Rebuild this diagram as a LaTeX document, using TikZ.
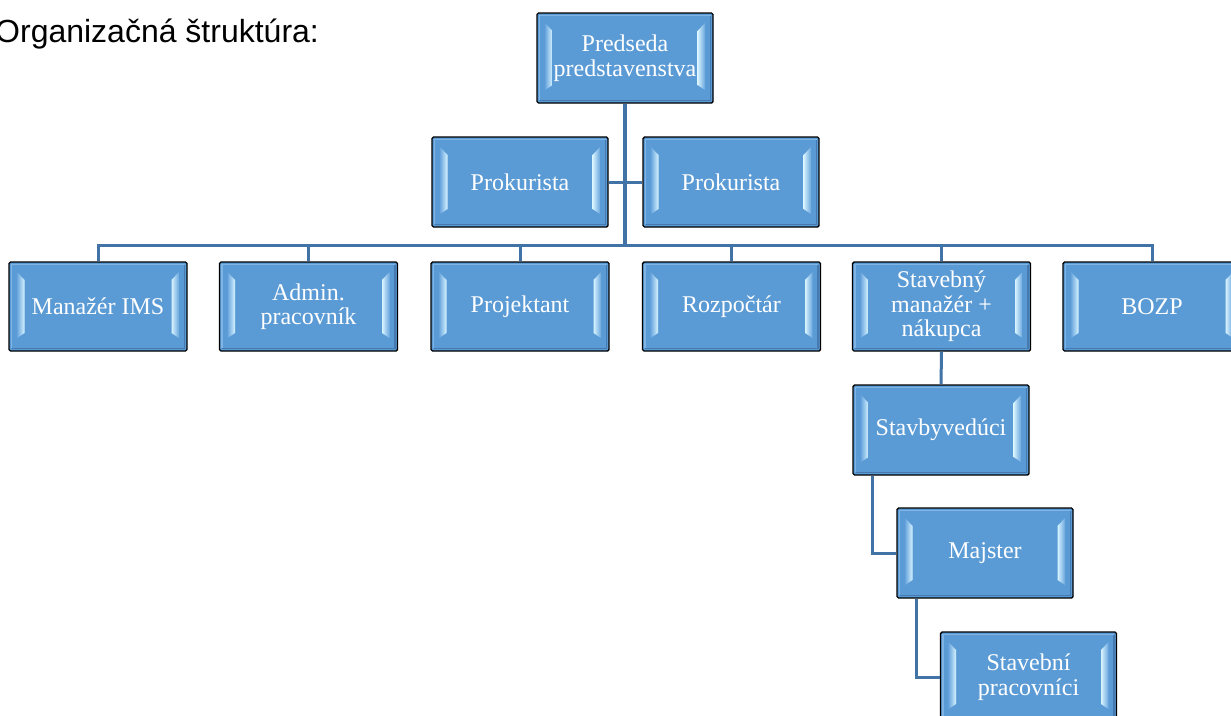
\documentclass[tikz,border=0pt]{standalone}
\usepackage{fontspec}
\setmainfont{Liberation Serif}
\newfontfamily\arialf{Liberation Sans}
\definecolor{boxblue}{RGB}{91,155,213}
\definecolor{bevin}{RGB}{215,244,255}
\definecolor{bevout}{RGB}{105,165,222}
\definecolor{linkblue}{RGB}{66,115,166}
\definecolor{edgelight}{RGB}{128,180,228}
\definecolor{edgedark}{RGB}{72,122,178}
\tikzset{
  orgbox/.style={draw=black, line width=1.4pt, fill=boxblue, rounded corners=1.5pt,
    minimum width=176pt, minimum height=90pt, inner sep=2pt, align=center,
    text=white, font=\fontsize{24}{24.5}\selectfont,
    path picture={
      \draw[edgelight, line width=1.6pt, sharp corners]
        ([shift={(2.5pt,3pt)}]path picture bounding box.south west) --
        ([shift={(2.5pt,-2.5pt)}]path picture bounding box.north west) --
        ([shift={(-2.5pt,-2.5pt)}]path picture bounding box.north east);
      \draw[edgedark, line width=1.6pt, sharp corners]
        ([shift={(-2.5pt,-2.5pt)}]path picture bounding box.north east) --
        ([shift={(-2.5pt,2.5pt)}]path picture bounding box.south east) --
        ([shift={(2.5pt,2.5pt)}]path picture bounding box.south west);
      \shade[left color=bevout, right color=bevin, sharp corners]
        ([shift={(8pt,-10pt)}]path picture bounding box.north west) --
        ([shift={(15.5pt,-18pt)}]path picture bounding box.north west) --
        ([shift={(15.5pt,18pt)}]path picture bounding box.south west) --
        ([shift={(8pt,13pt)}]path picture bounding box.south west) -- cycle;
      \shade[left color=bevin, right color=bevout, sharp corners]
        ([shift={(-8pt,-10pt)}]path picture bounding box.north east) --
        ([shift={(-15.5pt,-18pt)}]path picture bounding box.north east) --
        ([shift={(-15.5pt,18pt)}]path picture bounding box.south east) --
        ([shift={(-8pt,13pt)}]path picture bounding box.south east) -- cycle;
    }},
  link/.style={draw=linkblue, line width=3pt},
  trunk/.style={draw=linkblue, line width=4pt}
}
\begin{document}
\begin{tikzpicture}[x=1pt, y=-1pt]
\clip (0,0) rectangle (1231,715);
\fill[white] (0,0) rectangle (1231,715);

\node[anchor=base west, font=\arialf\fontsize{32}{38}\selectfont, inner sep=0pt] (title) at (-5,42) {Organizačná štruktúra:};

% nodes
\node[orgbox] (top) at (625,58) {Predseda\\predstavenstva};
\node[orgbox] (pk1) at (520,182) {Prokurista};
\node[orgbox] (pk2) at (731,182) {Prokurista};

\node[orgbox, minimum width=178pt, minimum height=89pt] (m1) at (98,306.5) {Manažér IMS};
\node[orgbox, minimum width=178pt, minimum height=89pt] (m2) at (308.5,306.5) {Admin.\\pracovník};
\node[orgbox, minimum width=178pt, minimum height=89pt] (m3) at (520,306.5) {Projektant};
\node[orgbox, minimum width=178pt, minimum height=89pt] (m4) at (731.5,306.5) {Rozpočtár};
\node[orgbox, minimum width=178pt, minimum height=89pt] (m5) at (941.5,306.5) {Stavebný\\manažér +\\nákupca};
\node[orgbox, minimum width=178pt, minimum height=89pt] (m6) at (1152,306.5) {BOZP};

\node[orgbox] (sbv) at (941,430) {Stavbyvedúci};
\node[orgbox] (maj) at (985,553) {Majster};
\node[orgbox] (sp) at (1028.5,677) {Stavební\\pracovníci};

\coordinate (bus) at (625,245);

% connectors
\draw[trunk] (top.south) -- (bus);
\draw[link] (pk1.east) -- (pk2.west);
\draw[link, line join=miter] (m1.north) |- (bus) -| (m6.north);
\draw[link] (m2.north) -- (m2.north |- bus);
\draw[link] (m3.north) -- (m3.north |- bus);
\draw[link] (m4.north) -- (m4.north |- bus);
\draw[link] (m5.north) -- (m5.north |- bus);
\draw[link] (m5.south) -- (sbv.north);
\draw[link, line join=miter] ([xshift=-69pt]sbv.south) |- (maj.west);
\draw[link, line join=miter] ([xshift=-69pt]maj.south) |- (sp.west);
\end{tikzpicture}
\end{document}
